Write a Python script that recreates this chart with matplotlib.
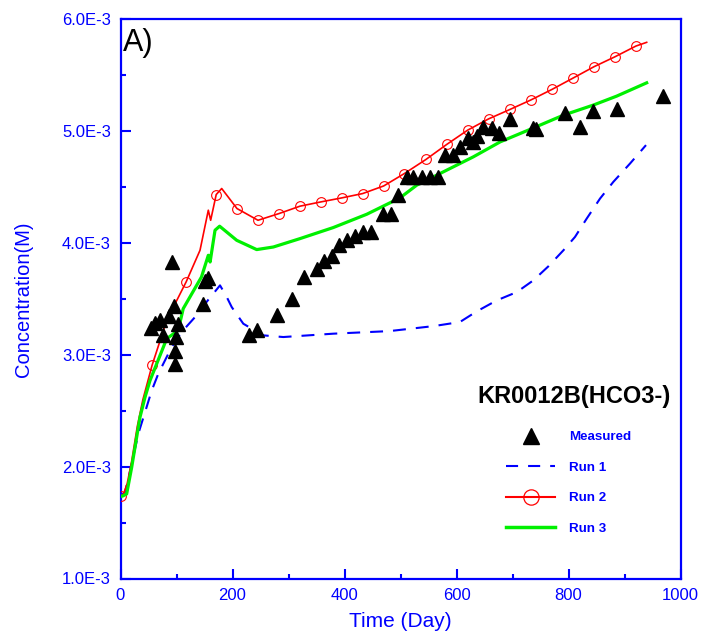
import matplotlib
matplotlib.use("Agg")
import matplotlib.pyplot as plt
from matplotlib.lines import Line2D
from matplotlib.ticker import MultipleLocator, FuncFormatter
import numpy as np

plt.rcParams['font.family'] = ['Liberation Sans', 'DejaVu Sans']

# ---- data (concentration in units of 1E-3 M) ----
measured_days = [53.9, 61.6, 70.5, 75.4, 87.1, 91.4, 95.5, 97.3, 97.3, 99.1, 103.2,
                 147.9, 150.9, 156.3, 230.0, 244.3, 278.9, 306.8, 328.2, 350.4,
                 363.4, 378.2, 390.7, 405.0, 419.3, 433.6, 447.3, 469.3, 482.5,
                 496.1, 511.1, 522.9, 537.9, 552.7, 567.5, 579.5, 593.2, 606.3,
                 621.1, 629.0, 637.1, 647.9, 662.9, 676.4, 695.5, 736.0, 742.0,
                 793.8, 820.5, 844.3, 886.1, 969.3]
measured_conc = [3.239, 3.282, 3.308, 3.174, 3.346, 3.830, 3.436, 3.031, 2.915, 3.156, 3.278,
                 3.457, 3.660, 3.684, 3.180, 3.225, 3.359, 3.502, 3.696, 3.771,
                 3.839, 3.884, 3.979, 4.024, 4.066, 4.098, 4.098, 4.263, 4.263,
                 4.427, 4.591, 4.591, 4.591, 4.591, 4.591, 4.785, 4.785, 4.854,
                 4.935, 4.899, 4.955, 5.033, 5.024, 4.985, 5.105, 5.024, 5.015,
                 5.164, 5.033, 5.182, 5.197, 5.313]

run1_days = [0, 8, 18, 31.8, 43.8, 55.7, 67.5, 91.4, 109, 133, 150, 165.7, 177.7,
             189.7, 198.6, 219.3, 255, 290.7, 380, 480, 559.5, 606, 636, 672, 707.7,
             737.3, 764, 791, 811.6, 832.5, 856.3, 880, 910, 938.4]
run1_conc = [1.74, 1.77, 1.98, 2.294, 2.487, 2.68, 2.831, 3.069, 3.203, 3.337, 3.45,
             3.547, 3.621, 3.517, 3.427, 3.278, 3.174, 3.159, 3.189, 3.212, 3.257,
             3.293, 3.388, 3.487, 3.561, 3.666, 3.791, 3.935, 4.054, 4.218, 4.397,
             4.546, 4.711, 4.875]

run2_days = [0, 5, 12, 20, 30, 40, 56.3, 82.5, 117.5, 142, 156.8, 161, 170.9, 180.7,
             208, 245.5, 283, 320.5, 357.5, 395, 432.5, 470, 507, 545.5, 582.5, 620,
             657.5, 695.5, 732.5, 770.5, 808, 845.5, 883, 920.5, 939.6]
run2_conc = [1.741, 1.75, 1.85, 2.05, 2.36, 2.6, 2.905, 3.308, 3.655, 3.935, 4.293,
             4.203, 4.433, 4.487, 4.308, 4.203, 4.263, 4.329, 4.367, 4.403, 4.442,
             4.51, 4.621, 4.747, 4.881, 5.009, 5.11, 5.194, 5.278, 5.373, 5.474,
             5.576, 5.665, 5.761, 5.794]
run2_marker_idx = [0, 6, 8, 12, 14, 15, 16, 17, 18, 19, 20, 21, 22, 23, 24, 25,
                   26, 27, 28, 29, 30, 31, 32, 33]

run3_days = [0, 5, 11, 20, 25.9, 34.8, 43.8, 52.7, 82.5, 103, 112, 144.6, 156.8,
             160, 168.8, 177, 207.5, 243.2, 272.9, 320.5, 380, 439.8, 499, 529,
             582.5, 630, 678, 731, 791, 844.3, 886, 939.6]
run3_conc = [1.732, 1.74, 1.756, 1.995, 2.174, 2.442, 2.621, 2.77, 3.144, 3.218,
             3.413, 3.696, 3.89, 3.83, 4.114, 4.15, 4.024, 3.941, 3.964, 4.039,
             4.138, 4.257, 4.403, 4.517, 4.651, 4.77, 4.904, 5.015, 5.143, 5.233,
             5.313, 5.432]

legend_labels = ["Measured", "Run 1", "Run 2", "Run 3"]
legend_title = "KR0012B(HCO3-)"

BLUE = "#0000FF"
RED = "#FF0000"
GREEN = "#00F000"

scale = 1e-3
fig = plt.figure(figsize=(7.02, 6.34), dpi=100)
ax = fig.add_axes([120.5 / 702, (634 - 578.5) / 634, 560 / 702, 559.2 / 634])

ax.plot(np.array(run1_days), np.array(run1_conc) * scale, color=BLUE, lw=1.5,
        dashes=(6.2, 4.8), zorder=2)
ax.plot(np.array(run2_days), np.array(run2_conc) * scale, color=RED, lw=1.2,
        marker='o', markevery=run2_marker_idx, markersize=7, markerfacecolor='none',
        markeredgecolor=RED, markeredgewidth=0.8, zorder=3)
ax.plot(np.array(run3_days), np.array(run3_conc) * scale, color=GREEN, lw=2.3, zorder=4)
ax.plot(np.array(measured_days), np.array(measured_conc) * scale, linestyle='none',
        marker='^', markersize=10, color='black', zorder=5)

ax.set_xlim(0, 1000)
ax.set_ylim(1e-3, 6e-3)
ax.xaxis.set_major_locator(MultipleLocator(200))
ax.xaxis.set_minor_locator(MultipleLocator(100))
ax.yaxis.set_major_locator(MultipleLocator(1e-3))
ax.yaxis.set_minor_locator(MultipleLocator(0.5e-3))
ax.yaxis.set_major_formatter(FuncFormatter(lambda v, p: f"{v * 1e3:.1f}E-3"))

for s in ax.spines.values():
    s.set_color(BLUE)
    s.set_linewidth(1.6)
ax.tick_params(which='both', direction='in', color=BLUE, width=1.5,
               labelcolor=BLUE, labelsize=12, top=False, right=False)
ax.tick_params(which='major', length=7.2, pad=7)
ax.tick_params(which='minor', length=3.8)

ax.set_xlabel("Time (Day)", color=BLUE, fontsize=15, labelpad=6)
ax.set_ylabel("Concentration(M)", color=BLUE, fontsize=14.5, labelpad=21)

ax.text(0.005, 0.985, "A)", transform=ax.transAxes, fontsize=22, color='black',
        ha='left', va='top')

fig.text(574 / 702, 1 - 396 / 634, legend_title, fontsize=17, fontweight='bold',
         color='black', ha='center', va='center')

handles = [
    Line2D([], [], linestyle='none', marker='^', markersize=12, color='black'),
    Line2D([], [], color=BLUE, lw=1.5, dashes=(5.8, 4.8)),
    Line2D([], [], color=RED, lw=1.5, marker='o', markersize=11,
           markerfacecolor='none', markeredgecolor=RED, markeredgewidth=0.9),
    Line2D([], [], color=GREEN, lw=2.5),
]
leg = ax.legend(handles, legend_labels, loc='upper left',
                bbox_to_anchor=(506 / 702, 1 - 431 / 634), bbox_transform=fig.transFigure,
                frameon=False, borderpad=0, borderaxespad=0, handlelength=3.7,
                handletextpad=1.05, labelspacing=1.36,
                prop={'weight': 'bold', 'size': 9.6})
for t in leg.get_texts():
    t.set_color(BLUE)

fig.savefig("out.png", dpi=100)
